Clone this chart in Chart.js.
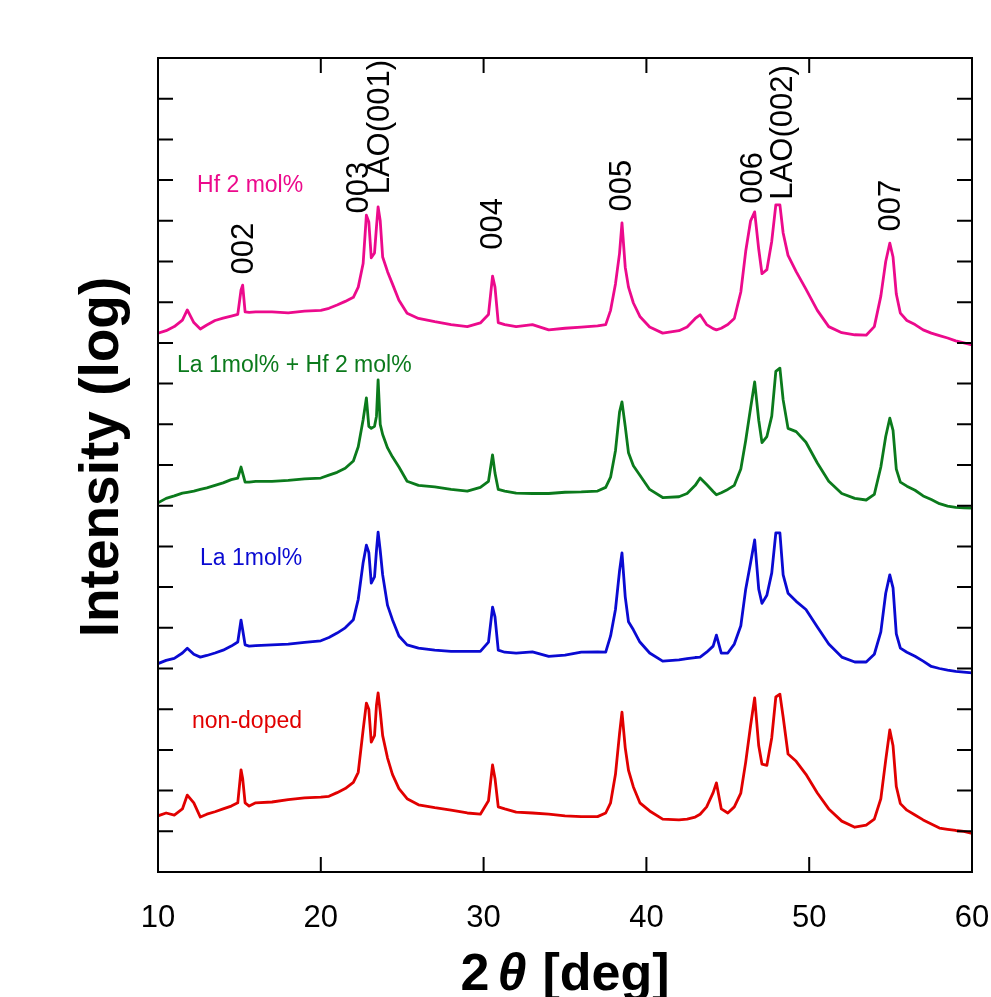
<!DOCTYPE html>
<html>
<head>
<meta charset="utf-8">
<script src="https://cdn.jsdelivr.net/npm/chart.js@4.4.1/dist/chart.umd.min.js"></script>
<style>
  body { margin: 0; background: #fff; }
  #wrap { width: 991px; height: 997px; }
</style>
</head>
<body>
<div id="wrap"><canvas id="xrdChart"></canvas></div>
<script>
// 2theta grid (deg), shared by all four patterns
const twoTheta = [
  10, 10.5, 11, 11.5, 11.8, 12.2, 12.6, 13, 13.5, 14,
  14.5, 14.9, 15.1, 15.2, 15.35, 15.6, 16, 17, 18, 19,
  20, 20.5, 21, 21.5, 22, 22.3, 22.6, 22.8, 22.95, 23.1,
  23.3, 23.42, 23.52, 23.65, 23.8, 24.1, 24.4, 24.8, 25.3, 26,
  27, 28, 29, 29.8, 30.3, 30.55, 30.7, 30.9, 31.3, 32,
  33, 34, 35, 36, 37, 37.5, 37.8, 38.1, 38.35, 38.5,
  38.7, 38.9, 39.2, 39.6, 40.2, 41, 42, 42.5, 43, 43.3,
  43.7, 44.1, 44.3, 44.6, 45, 45.4, 45.8, 46.1, 46.4, 46.65,
  46.9, 47.1, 47.4, 47.7, 47.95, 48.2, 48.4, 48.7, 49.2, 49.8,
  50.5, 51.2, 52, 52.8, 53.5, 54, 54.4, 54.7, 54.95, 55.15,
  55.35, 55.6, 56, 56.5, 57, 57.5, 58, 58.5, 59, 59.5,
  60
];

// log intensity, already stacked with an offset (one tick = one unit)
const nonDoped = [
  1.38, 1.45, 1.40, 1.55, 1.89, 1.70, 1.35, 1.42, 1.48, 1.55,
  1.62, 1.70, 2.51, 2.30, 1.70, 1.62, 1.70, 1.72, 1.78, 1.82,
  1.84, 1.86, 1.95, 2.05, 2.20, 2.45, 3.49, 4.15, 4.00, 3.19,
  3.35, 4.10, 4.40, 3.95, 3.35, 2.80, 2.40, 2.05, 1.80, 1.65,
  1.58, 1.52, 1.45, 1.42, 1.75, 2.63, 2.30, 1.60, 1.55, 1.47,
  1.45, 1.42, 1.38, 1.36, 1.36, 1.45, 1.70, 2.40, 3.40, 3.93,
  3.05, 2.50, 2.09, 1.70, 1.50, 1.30, 1.28, 1.30, 1.35, 1.42,
  1.60, 1.95, 2.19, 1.55, 1.45, 1.60, 1.94, 2.70, 3.60, 4.28,
  3.10, 2.65, 2.62, 3.30, 4.30, 4.37, 3.81, 2.90, 2.72, 2.40,
  1.94, 1.55, 1.25, 1.10, 1.15, 1.30, 1.80, 2.75, 3.49, 3.10,
  2.10, 1.68, 1.52, 1.40, 1.28, 1.18, 1.08, 1.05, 1.02, 1.00,
  0.95
];
const la1 = [
  5.12, 5.20, 5.25, 5.38, 5.50, 5.35, 5.28, 5.32, 5.38, 5.45,
  5.55, 5.65, 6.19, 5.95, 5.58, 5.55, 5.56, 5.58, 5.60, 5.64,
  5.68, 5.76, 5.87, 6.00, 6.20, 6.70, 7.60, 8.03, 7.85, 7.10,
  7.25, 7.90, 8.35, 7.90, 7.30, 6.55, 6.20, 5.80, 5.58, 5.50,
  5.45, 5.42, 5.42, 5.42, 5.65, 6.51, 6.27, 5.45, 5.40, 5.38,
  5.41, 5.30, 5.33, 5.40, 5.41, 5.40, 5.80, 6.45, 7.40, 7.84,
  6.76, 6.15, 5.95, 5.65, 5.38, 5.18, 5.21, 5.24, 5.27, 5.28,
  5.40, 5.55, 5.82, 5.38, 5.38, 5.60, 6.05, 6.95, 7.60, 8.16,
  6.95, 6.60, 6.80, 7.35, 8.33, 8.33, 7.30, 6.85, 6.65, 6.45,
  6.02, 5.60, 5.28, 5.16, 5.16, 5.35, 5.90, 6.85, 7.30, 6.98,
  5.85, 5.50, 5.40, 5.30, 5.18, 5.05, 5.00, 4.96, 4.93, 4.91,
  4.89
];
const la1Hf2 = [
  9.07, 9.18, 9.24, 9.31, 9.33, 9.36, 9.40, 9.44, 9.50, 9.56,
  9.64, 9.68, 9.95, 9.80, 9.58, 9.58, 9.60, 9.60, 9.62, 9.66,
  9.68, 9.75, 9.82, 9.92, 10.10, 10.45, 11.11, 11.65, 10.95, 10.90,
  10.95, 11.20, 12.09, 11.00, 10.75, 10.42, 10.20, 9.95, 9.60, 9.50,
  9.46, 9.40, 9.36, 9.45, 9.60, 10.25, 9.80, 9.40, 9.36, 9.31,
  9.30, 9.30, 9.33, 9.34, 9.36, 9.45, 9.70, 10.35, 11.30, 11.55,
  10.95, 10.30, 9.98, 9.75, 9.40, 9.20, 9.22, 9.30, 9.50, 9.68,
  9.52, 9.35, 9.27, 9.32, 9.40, 9.50, 9.90, 10.60, 11.40, 12.04,
  11.10, 10.55, 10.70, 11.20, 12.30, 12.38, 11.60, 10.90, 10.82, 10.56,
  10.05, 9.60, 9.30, 9.18, 9.14, 9.28, 9.95, 10.70, 11.15, 10.85,
  9.90, 9.58, 9.48, 9.38, 9.24, 9.15, 9.05, 8.99, 8.96, 8.95,
  8.94
];
const hf2 = [
  13.24, 13.30, 13.40, 13.56, 13.81, 13.50, 13.34, 13.44, 13.55, 13.61,
  13.66, 13.70, 14.30, 14.42, 13.76, 13.75, 13.76, 13.76, 13.74, 13.78,
  13.80, 13.85, 13.93, 14.02, 14.12, 14.37, 14.95, 16.14, 15.97, 15.09,
  15.21, 15.85, 16.34, 16.00, 15.11, 14.75, 14.45, 14.05, 13.73, 13.60,
  13.52, 13.45, 13.40, 13.49, 13.70, 14.64, 14.37, 13.50, 13.45, 13.40,
  13.45, 13.32, 13.36, 13.39, 13.42, 13.45, 13.80, 14.45, 15.20, 15.95,
  14.86, 14.37, 13.98, 13.65, 13.39, 13.24, 13.30, 13.39, 13.60, 13.69,
  13.45, 13.35, 13.32, 13.36, 13.45, 13.60, 14.25, 15.25, 16.00, 16.22,
  15.30, 14.70, 14.80, 15.50, 16.39, 16.39, 15.70, 15.15, 14.75, 14.32,
  13.80, 13.40, 13.25, 13.20, 13.19, 13.40, 14.15, 15.00, 15.45, 15.11,
  14.20, 13.73, 13.55, 13.45, 13.32, 13.24, 13.18, 13.12, 13.05, 13.00,
  12.95
];

const seriesNames = ["non-doped", "La 1mol%", "La 1mol% + Hf 2 mol%", "Hf 2 mol%"];
const seriesColors = ["#e10000", "#0a0ad2", "#0b7a1c", "#ec0a8c"];
// where each sample name sits (2theta, stacked log intensity)
const nameX = [12.09, 12.58, 11.17, 12.40];
const nameY = [3.54, 7.54, 12.29, 16.71];

const xTickValues = [10, 20, 30, 40, 50, 60];
const yTickValues = [1, 2, 3, 4, 5, 6, 7, 8, 9, 10, 11, 12, 13, 14, 15, 16, 17, 18, 19];

const peakNames = ["002", "003", "LAO(001)", "004", "005", "006", "LAO(002)", "007"];
const peakNameX = [15.84, 22.90, 24.19, 31.13, 39.05, 47.10, 48.94, 55.58];
const peakNameY = [14.68, 16.18, 16.65, 15.29, 16.23, 16.42, 16.52, 15.74];

const allSeries = [nonDoped, la1, la1Hf2, hf2];

const decorations = {
  id: "decorations",
  afterDatasetsDraw(chart) {
    const ctx = chart.ctx;
    const area = chart.chartArea;
    const xs = chart.scales.x;
    const ys = chart.scales.y;
    ctx.save();

    // frame + inward ticks
    ctx.strokeStyle = "#000";
    ctx.lineWidth = 2;
    ctx.strokeRect(area.left, area.top, area.right - area.left, area.bottom - area.top);
    ctx.beginPath();
    xTickValues.forEach((v) => {
      const px = xs.getPixelForValue(v);
      ctx.moveTo(px, area.bottom);
      ctx.lineTo(px, area.bottom - 15);
      ctx.moveTo(px, area.top);
      ctx.lineTo(px, area.top + 15);
    });
    yTickValues.forEach((v) => {
      const py = ys.getPixelForValue(v);
      ctx.moveTo(area.left, py);
      ctx.lineTo(area.left + 15, py);
      ctx.moveTo(area.right, py);
      ctx.lineTo(area.right - 15, py);
    });
    ctx.stroke();

    // x tick labels
    ctx.fillStyle = "#000";
    ctx.font = "31px 'Liberation Sans', Arial, sans-serif";
    ctx.textAlign = "center";
    ctx.textBaseline = "alphabetic";
    xTickValues.forEach((v) => {
      ctx.fillText(String(v), xs.getPixelForValue(v), area.bottom + 55);
    });

    // peak indices, rotated
    ctx.textAlign = "left";
    peakNames.forEach((t, i) => {
      ctx.save();
      ctx.translate(xs.getPixelForValue(peakNameX[i]), ys.getPixelForValue(peakNameY[i]));
      ctx.rotate(-Math.PI / 2);
      ctx.fillText(t, 0, 0);
      ctx.restore();
    });

    // sample names
    ctx.font = "23px 'Liberation Sans', Arial, sans-serif";
    seriesNames.forEach((t, i) => {
      ctx.fillStyle = seriesColors[i];
      ctx.fillText(t, xs.getPixelForValue(nameX[i]), ys.getPixelForValue(nameY[i]));
    });

    // y axis title
    ctx.fillStyle = "#000";
    ctx.font = "bold 55px 'Liberation Sans', Arial, sans-serif";
    ctx.textAlign = "center";
    ctx.save();
    ctx.translate(area.left - 40, (area.top + area.bottom) / 2 - 8);
    ctx.rotate(-Math.PI / 2);
    ctx.fillText("Intensity (log)", 0, 0);
    ctx.restore();

    // x axis title: 2θ [deg] with italic theta
    const base = area.bottom + 118;
    const fBold = "bold 52px 'Liberation Sans', Arial, sans-serif";
    const fItal = "italic bold 52px 'Liberation Sans', Arial, sans-serif";
    ctx.textAlign = "left";
    ctx.font = fBold;
    const w2 = ctx.measureText("2").width;
    const wDeg = ctx.measureText("[deg]").width;
    ctx.font = fItal;
    const wTh = ctx.measureText("θ").width;
    const gap1 = 8, gap2 = 16;
    let x0 = (area.left + area.right) / 2 - (w2 + gap1 + wTh + gap2 + wDeg) / 2;
    ctx.font = fBold;
    ctx.fillText("2", x0, base);
    x0 += w2 + gap1;
    ctx.font = fItal;
    ctx.fillText("θ", x0, base);
    x0 += wTh + gap2;
    ctx.font = fBold;
    ctx.fillText("[deg]", x0, base);

    ctx.restore();
  }
};

const ctx = document.getElementById("xrdChart").getContext("2d");
const xrdChart = new Chart(ctx, {
  type: "line",
  data: {
    datasets: allSeries.map((ys, i) => ({
      label: seriesNames[i],
      data: twoTheta.map((x, j) => ({ x: x, y: ys[j] })),
      borderColor: seriesColors[i],
      borderWidth: 2.8,
      borderJoinStyle: "round",
      pointRadius: 0,
      tension: 0,
      fill: false,
    })),
  },
  options: {
    responsive: true,
    maintainAspectRatio: false,
    animation: false,
    layout: { padding: { left: 158, right: 19, top: 58, bottom: 125 } },
    plugins: { legend: { display: false }, tooltip: { enabled: false } },
    scales: {
      x: { type: "linear", min: 10, max: 60, display: false },
      y: { type: "linear", min: 0, max: 20, display: false },
    },
  },
  plugins: [decorations],
});
</script>
</body>
</html>
